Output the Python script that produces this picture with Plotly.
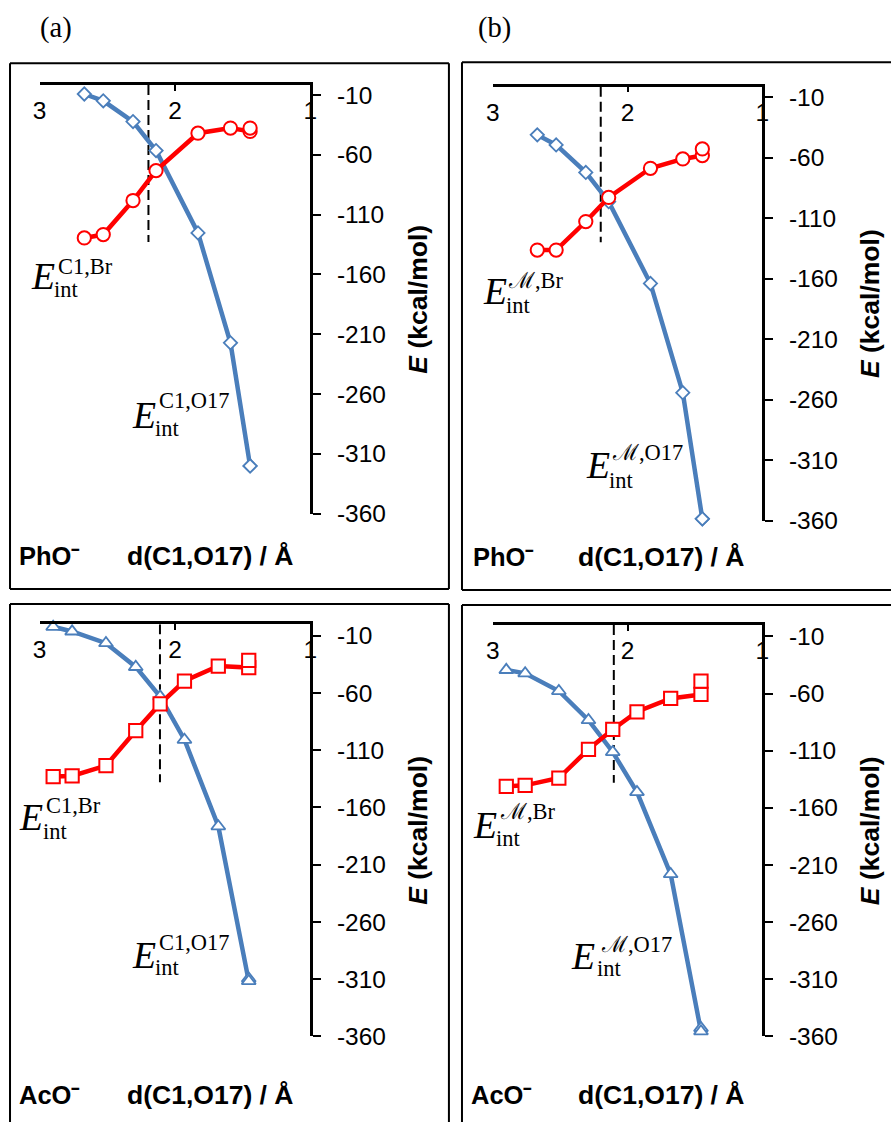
import plotly.graph_objects as go

W, H = 891, 1122
# layout grid (page pixels) -> figure pixels
INSET_X, INSET_Y, SCALE = 8.0, 5.0, 0.98

# ---- data: C1-O17 distance (Å) and interaction energies (kcal/mol) ----
d_pho = [2.67, 2.53, 2.31, 2.14, 1.83, 1.59, 1.445, 1.445]
d_aco = [2.90, 2.76, 2.51, 2.29, 2.11, 1.93, 1.68, 1.455, 1.455]

e_c1_o17_pho = [-9.1, -14.8, -32.2, -56.4, -125.3, -217.2, -320.2, -320.2]
e_c1_br_pho = [-129.5, -126.7, -98.2, -73.2, -41.9, -37.6, -40.4, -37.6]
e_m_o17_pho = [-41.3, -49.6, -72.3, -96.5, -164.1, -254.3, -358.6, -358.6]
e_m_br_pho = [-136.5, -136.5, -112.9, -93.0, -68.9, -61.2, -58.4, -52.9]

e_c1_o17_aco = [-2.1, -6.2, -16.4, -37.2, -63.0, -100.8, -176.4, -309.4, -311.7]
e_c1_br_aco = [-133.0, -132.4, -123.4, -92.9, -69.5, -49.5, -36.4, -37.8, -31.4]
e_m_o17_aco = [-39.3, -42.2, -57.7, -83.2, -111.1, -146.2, -218.0, -352.7, -355.6]
e_m_br_aco = [-141.2, -140.3, -133.9, -108.7, -91.4, -75.9, -64.2, -60.7, -49.0]

# transition-state distance (dashed marker) and its lower end
ts_d = [2.196, 2.199, 2.111, 2.102]
ts_low = [-133.0, -130.0, -138.0, -138.0]

x_ticks = [3, 2, 1]
y_ticks = [-360, -310, -260, -210, -160, -110, -60, -10]
y_ticktext = ["-360", "-310", "-260", "-210", "-160", "-110", "-60", "-10"]

panel_tags = ["(a)", "(b)"]
anions = ["PhO⁻", "PhO⁻", "AcO⁻", "AcO⁻"]
sup_br = ["C1,Br", "ℳ,Br", "C1,Br", "ℳ,Br"]
sup_o17 = ["C1,O17", "ℳ,O17", "C1,O17", "ℳ,O17"]

BLUE = "#4A7EBB"
RED = "#FF0000"
SANS = "Arial, Liberation Sans, sans-serif"
SERIF = "Times New Roman, Liberation Serif, serif"


def px(x):
    return (x - INSET_X) / SCALE / W


def py(y):
    return 1 - (y - INSET_Y) / SCALE / H


def sz(v):
    return v / SCALE


# panel geometry in grid pixels; "edges" lists which frame sides are drawn
geo = [
    dict(x0=40.5, x1=310, yt=86.5, yb=513, ymax=-1.5, box=(11, 65, 448, 588), edges="ltrb",
         e1=(30, 277), s1=(57, 267), i1=(53, 290), e2=(130, 415), s2=(157, 401), i2=(153, 428),
         lab=(18, 211, 555)),
    dict(x0=491.7, x1=760, yt=88.3, yb=520, ymax=-1.5, box=(461, 64, 905, 589), edges="ltb",
         e1=(480, 292), s1=(505, 281), i1=(503, 306), e2=(582, 465), s2=(608, 452), i2=(605, 480),
         lab=(470, 660, 556)),
    dict(x0=40.5, x1=310, yt=623.3, yb=1033.3, ymax=0, box=(11, 603, 448, 1140), edges="ltr",
         e1=(18, 815), s1=(45, 804), i1=(42, 829), e2=(130, 952), s2=(157, 940), i2=(153, 965),
         lab=(18, 211, 1092)),
    dict(x0=491.7, x1=760, yt=624, yb=1033.3, ymax=0, box=(461, 604, 905, 1140), edges="lt",
         e1=(470, 823), s1=(497, 810), i1=(493, 836), e2=(568, 953), s2=(597, 942), i2=(593, 966),
         lab=(468, 660, 1092)),
]

series = [
    (d_pho, e_c1_o17_pho, e_c1_br_pho, "diamond", 10, "circle", 13),
    (d_pho, e_m_o17_pho, e_m_br_pho, "diamond", 10, "circle", 13),
    (d_aco, e_c1_o17_aco, e_c1_br_aco, "triangle-up", 12, "square", 13),
    (d_aco, e_m_o17_aco, e_m_br_aco, "triangle-up", 12, "square", 13),
]

fig = go.Figure()
layout = dict(width=W, height=H, margin=dict(l=0, r=0, t=0, b=0),
              plot_bgcolor="white", paper_bgcolor="white", showlegend=False)
shapes, annotations = [], []

for i, g in enumerate(geo):
    n = "" if i == 0 else str(i + 1)
    xa, ya = "x" + n, "y" + n
    d, blue_e, red_e, bsym, bsize, rsym, rsize = series[i]

    # dashed line at the transition-state distance
    fig.add_trace(go.Scatter(x=[ts_d[i], ts_d[i]], y=[g["ymax"], ts_low[i]], mode="lines",
                             line=dict(color="black", width=2, dash="10px,5px"),
                             xaxis=xa, yaxis=ya, hoverinfo="skip"))
    fig.add_trace(go.Scatter(x=d, y=blue_e, mode="lines+markers", cliponaxis=False,
                             line=dict(color=BLUE, width=4.5),
                             marker=dict(symbol=bsym, size=sz(bsize), color="white",
                                         line=dict(color=BLUE, width=1.8)),
                             xaxis=xa, yaxis=ya))
    fig.add_trace(go.Scatter(x=d, y=red_e, mode="lines+markers", cliponaxis=False,
                             line=dict(color=RED, width=4.5),
                             marker=dict(symbol=rsym, size=sz(rsize), color="white",
                                         line=dict(color=RED, width=2)),
                             xaxis=xa, yaxis=ya))

    layout["xaxis" + n] = dict(
        domain=[px(g["x0"]), px(g["x1"])], range=[3, 1], anchor=ya, side="top",
        showline=True, linecolor="black", linewidth=2.5,
        ticks="inside", ticklen=6, tickwidth=2, tickcolor="black",
        tickvals=x_ticks, ticklabelposition="inside", ticklabelstandoff=13,
        ticklabeloverflow="allow", showgrid=False, zeroline=False,
        tickfont=dict(family=SANS, size=sz(24), color="black"))
    layout["yaxis" + n] = dict(
        domain=[py(g["yb"]), py(g["yt"])], range=[-360, g["ymax"]], anchor=xa, side="right",
        showline=True, linecolor="black", linewidth=2.5,
        ticks="outside", ticklen=8, tickwidth=2, tickcolor="black",
        tickvals=y_ticks, ticktext=y_ticktext, ticklabelstandoff=11,
        showgrid=False, zeroline=False,
        tickfont=dict(family=SANS, size=sz(24), color="black"),
        title=dict(text="<b><i>E</i> (kcal/mol)</b>", standoff=24,
                   font=dict(family=SANS, size=sz(26), color="black")))

    # panel frame
    bx0, by0, bx1, by1 = g["box"]
    sides = {"l": (bx0, by0, bx0, by1), "t": (bx0, by0, bx1, by0),
             "r": (bx1, by0, bx1, by1), "b": (bx0, by1, bx1, by1)}
    for s in g["edges"]:
        a0, b0, a1, b1 = sides[s]
        shapes.append(dict(type="line", xref="paper", yref="paper",
                           x0=px(a0), y0=py(b0), x1=px(a1), y1=py(b1),
                           line=dict(color="black", width=2)))

    # curve labels: E with stacked superscript / subscript
    for (ex, ey), (sx, sy), (ix, iy), sup in ((g["e1"], g["s1"], g["i1"], sup_br[i]),
                                              (g["e2"], g["s2"], g["i2"], sup_o17[i])):
        annotations.append(dict(text="<i>E</i>", x=px(ex), y=py(ey), xref="paper", yref="paper",
                                xanchor="left", yanchor="middle", showarrow=False,
                                font=dict(family=SERIF, size=sz(37), color="black")))
        annotations.append(dict(text=sup, x=px(sx), y=py(sy), xref="paper", yref="paper",
                                xanchor="left", yanchor="middle", showarrow=False,
                                font=dict(family=SERIF, size=sz(22), color="black")))
        annotations.append(dict(text="int", x=px(ix), y=py(iy), xref="paper", yref="paper",
                                xanchor="left", yanchor="middle", showarrow=False,
                                font=dict(family=SERIF, size=sz(22), color="black")))

    lx, tx, ty = g["lab"]
    annotations.append(dict(text="<b>" + anions[i] + "</b>", x=px(lx), y=py(ty),
                            xref="paper", yref="paper", xanchor="left", yanchor="middle",
                            showarrow=False, font=dict(family=SANS, size=sz(25), color="black")))
    annotations.append(dict(text="<b>d(C1,O17) / Å</b>", x=px(tx), y=py(ty),
                            xref="paper", yref="paper", xanchor="center", yanchor="middle",
                            showarrow=False, font=dict(family=SANS, size=sz(26), color="black")))

for tag, cx in zip(panel_tags, (57, 493)):
    annotations.append(dict(text=tag, x=px(cx), y=py(30), xref="paper", yref="paper",
                            xanchor="center", yanchor="middle", showarrow=False,
                            font=dict(family=SERIF, size=sz(28), color="black")))

layout["shapes"] = shapes
layout["annotations"] = annotations
fig.update_layout(**layout)
fig.write_html("out.html")
